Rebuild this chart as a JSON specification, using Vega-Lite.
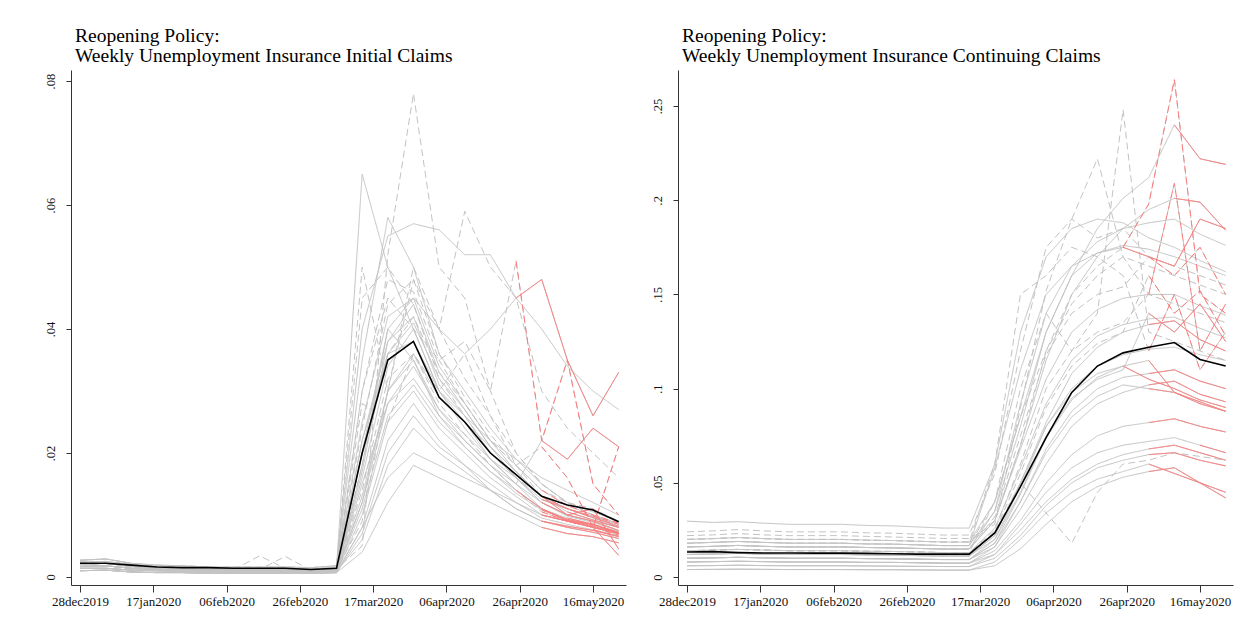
{"$schema":"https://vega.github.io/schema/vega-lite/v6.json","padding":{"left":43,"top":25,"right":5,"bottom":5},"background":"white","spacing":25,
"config":{"view":{"stroke":null},"font":"Liberation Serif","axis":{"grid":false,"title":null,"domainColor":"#333","tickColor":"#333","labelColor":"#111","labelFont":"Liberation Serif"},"title":{"font":"Liberation Serif","fontSize":19.5,"fontWeight":"normal","color":"#000","anchor":"start","frame":"group","offset":0,"dx":4,"lineHeight":20}},
"datasets":{"avg":[
{"d":"2019-12-28","i":0.0022,"c":0.0133},{"d":"2020-01-04","i":0.0022,"c":0.0135},{"d":"2020-01-11","i":0.0019,"c":0.013},{"d":"2020-01-18","i":0.0016,"c":0.0128},{"d":"2020-01-25","i":0.0015,"c":0.0128},{"d":"2020-02-01","i":0.0015,"c":0.0127},{"d":"2020-02-08","i":0.0014,"c":0.0127},{"d":"2020-02-15","i":0.0014,"c":0.0126},{"d":"2020-02-22","i":0.0014,"c":0.0124},{"d":"2020-02-29","i":0.0012,"c":0.0122},{"d":"2020-03-07","i":0.0014,"c":0.0122},{"d":"2020-03-14","i":0.02,"c":0.0122},{"d":"2020-03-21","i":0.035,"c":0.0234},{"d":"2020-03-28","i":0.038,"c":0.048},{"d":"2020-04-04","i":0.029,"c":0.074},{"d":"2020-04-11","i":0.025,"c":0.098},{"d":"2020-04-18","i":0.02,"c":0.112},{"d":"2020-04-25","i":0.0165,"c":0.119},{"d":"2020-05-02","i":0.013,"c":0.122},{"d":"2020-05-09","i":0.0116,"c":0.1245},{"d":"2020-05-16","i":0.0108,"c":0.1155},{"d":"2020-05-23","i":0.0089,"c":0.112}],
"st":[
{"s":1,"g":"a","d":"2019-12-28","i":0.0017,"c":0.012,"p":0},{"s":1,"g":"a","d":"2020-01-04","i":0.0018,"c":0.0122,"p":0},{"s":1,"g":"a","d":"2020-01-11","i":0.0014,"c":0.0126,"p":0},{"s":1,"g":"a","d":"2020-01-18","i":0.0012,"c":0.0122,"p":0},{"s":1,"g":"a","d":"2020-01-25","i":0.0011,"c":0.012,"p":0},{"s":1,"g":"a","d":"2020-02-01","i":0.001,"c":0.012,"p":0},{"s":1,"g":"a","d":"2020-02-08","i":0.001,"c":0.012,"p":0},{"s":1,"g":"a","d":"2020-02-15","i":0.001,"c":0.0118,"p":0},{"s":1,"g":"a","d":"2020-02-22","i":0.001,"c":0.0116,"p":0},{"s":1,"g":"a","d":"2020-02-29","i":0.001,"c":0.0114,"p":0},{"s":1,"g":"a","d":"2020-03-07","i":0.0011,"c":0.0112,"p":0},{"s":1,"g":"a","d":"2020-03-14","i":0.022,"c":0.0112,"p":0},{"s":1,"g":"a","d":"2020-03-21","i":0.038,"c":0.022,"p":0},{"s":1,"g":"a","d":"2020-03-28","i":0.042,"c":0.05,"p":0},{"s":1,"g":"a","d":"2020-04-04","i":0.031,"c":0.082,"p":0},{"s":1,"g":"a","d":"2020-04-11","i":0.026,"c":0.108,"p":0},{"s":1,"g":"a","d":"2020-04-18","i":0.02,"c":0.122,"p":0},{"s":1,"g":"a","d":"2020-04-25","i":0.016,"c":0.13,"p":0},{"s":1,"g":"a","d":"2020-05-02","i":0.012,"c":0.134,"p":1},{"s":1,"g":"a","d":"2020-05-09","i":0.01,"c":0.136,"p":1},{"s":1,"g":"a","d":"2020-05-16","i":0.009,"c":0.126,"p":1},{"s":1,"g":"a","d":"2020-05-23","i":0.0075,"c":0.12,"p":1},
{"s":2,"g":"a","d":"2019-12-28","i":0.0014,"c":0.01,"p":0},{"s":2,"g":"a","d":"2020-01-04","i":0.0014,"c":0.0102,"p":0},{"s":2,"g":"a","d":"2020-01-11","i":0.0011,"c":0.0105,"p":0},{"s":2,"g":"a","d":"2020-01-18","i":0.001,"c":0.0102,"p":0},{"s":2,"g":"a","d":"2020-01-25","i":0.0009,"c":0.01,"p":0},{"s":2,"g":"a","d":"2020-02-01","i":0.0008,"c":0.01,"p":0},{"s":2,"g":"a","d":"2020-02-08","i":0.0008,"c":0.01,"p":0},{"s":2,"g":"a","d":"2020-02-15","i":0.0008,"c":0.0098,"p":0},{"s":2,"g":"a","d":"2020-02-22","i":0.0008,"c":0.0097,"p":0},{"s":2,"g":"a","d":"2020-02-29","i":0.0008,"c":0.0095,"p":0},{"s":2,"g":"a","d":"2020-03-07","i":0.0009,"c":0.0093,"p":0},{"s":2,"g":"a","d":"2020-03-14","i":0.012,"c":0.0093,"p":0},{"s":2,"g":"a","d":"2020-03-21","i":0.03,"c":0.016,"p":0},{"s":2,"g":"a","d":"2020-03-28","i":0.035,"c":0.036,"p":0},{"s":2,"g":"a","d":"2020-04-04","i":0.027,"c":0.06,"p":0},{"s":2,"g":"a","d":"2020-04-11","i":0.022,"c":0.08,"p":0},{"s":2,"g":"a","d":"2020-04-18","i":0.018,"c":0.092,"p":0},{"s":2,"g":"a","d":"2020-04-25","i":0.014,"c":0.098,"p":0},{"s":2,"g":"a","d":"2020-05-02","i":0.011,"c":0.102,"p":1},{"s":2,"g":"a","d":"2020-05-09","i":0.009,"c":0.104,"p":1},{"s":2,"g":"a","d":"2020-05-16","i":0.0085,"c":0.097,"p":1},{"s":2,"g":"a","d":"2020-05-23","i":0.007,"c":0.093,"p":1},
{"s":3,"g":"a","d":"2019-12-28","i":0.0024,"c":0.018,"p":0},{"s":3,"g":"a","d":"2020-01-04","i":0.0025,"c":0.0184,"p":0},{"s":3,"g":"a","d":"2020-01-11","i":0.002,"c":0.0189,"p":0},{"s":3,"g":"a","d":"2020-01-18","i":0.0017,"c":0.0184,"p":0},{"s":3,"g":"a","d":"2020-01-25","i":0.0015,"c":0.018,"p":0},{"s":3,"g":"a","d":"2020-02-01","i":0.0014,"c":0.018,"p":0},{"s":3,"g":"a","d":"2020-02-08","i":0.0014,"c":0.018,"p":0},{"s":3,"g":"a","d":"2020-02-15","i":0.0014,"c":0.0176,"p":0},{"s":3,"g":"a","d":"2020-02-22","i":0.0014,"c":0.0175,"p":0},{"s":3,"g":"a","d":"2020-02-29","i":0.0013,"c":0.0171,"p":0},{"s":3,"g":"a","d":"2020-03-07","i":0.0015,"c":0.0167,"p":0},{"s":3,"g":"a","d":"2020-03-14","i":0.065,"c":0.0167,"p":0},{"s":3,"g":"a","d":"2020-03-21","i":0.05,"c":0.058,"p":0},{"s":3,"g":"a","d":"2020-03-28","i":0.04,"c":0.11,"p":0},{"s":3,"g":"a","d":"2020-04-04","i":0.03,"c":0.15,"p":0},{"s":3,"g":"a","d":"2020-04-11","i":0.025,"c":0.165,"p":0},{"s":3,"g":"a","d":"2020-04-18","i":0.019,"c":0.172,"p":0},{"s":3,"g":"a","d":"2020-04-25","i":0.015,"c":0.176,"p":0},{"s":3,"g":"a","d":"2020-05-02","i":0.012,"c":0.174,"p":0},{"s":3,"g":"a","d":"2020-05-09","i":0.01,"c":0.17,"p":0},{"s":3,"g":"a","d":"2020-05-16","i":0.009,"c":0.165,"p":0},{"s":3,"g":"a","d":"2020-05-23","i":0.008,"c":0.16,"p":0},
{"s":4,"g":"b","d":"2019-12-28","i":0.002,"c":0.022,"p":0},{"s":4,"g":"b","d":"2020-01-04","i":0.0022,"c":0.0224,"p":0},{"s":4,"g":"b","d":"2020-01-11","i":0.0017,"c":0.0231,"p":0},{"s":4,"g":"b","d":"2020-01-18","i":0.0014,"c":0.0224,"p":0},{"s":4,"g":"b","d":"2020-01-25","i":0.0013,"c":0.022,"p":0},{"s":4,"g":"b","d":"2020-02-01","i":0.0012,"c":0.022,"p":0},{"s":4,"g":"b","d":"2020-02-08","i":0.0012,"c":0.022,"p":0},{"s":4,"g":"b","d":"2020-02-15","i":0.0012,"c":0.0216,"p":0},{"s":4,"g":"b","d":"2020-02-22","i":0.0012,"c":0.0213,"p":0},{"s":4,"g":"b","d":"2020-02-29","i":0.0011,"c":0.0209,"p":0},{"s":4,"g":"b","d":"2020-03-07","i":0.0013,"c":0.0205,"p":0},{"s":4,"g":"b","d":"2020-03-14","i":0.005,"c":0.0205,"p":0},{"s":4,"g":"b","d":"2020-03-21","i":0.052,"c":0.028,"p":0},{"s":4,"g":"b","d":"2020-03-28","i":0.078,"c":0.09,"p":0},{"s":4,"g":"b","d":"2020-04-04","i":0.05,"c":0.152,"p":0},{"s":4,"g":"b","d":"2020-04-11","i":0.045,"c":0.19,"p":0},{"s":4,"g":"b","d":"2020-04-18","i":0.03,"c":0.222,"p":0},{"s":4,"g":"b","d":"2020-04-25","i":0.02,"c":0.17,"p":0},{"s":4,"g":"b","d":"2020-05-02","i":0.015,"c":0.15,"p":0},{"s":4,"g":"b","d":"2020-05-09","i":0.012,"c":0.145,"p":0},{"s":4,"g":"b","d":"2020-05-16","i":0.011,"c":0.14,"p":0},{"s":4,"g":"b","d":"2020-05-23","i":0.009,"c":0.135,"p":0},
{"s":5,"g":"a","d":"2019-12-28","i":0.0027,"c":0.016,"p":0},{"s":5,"g":"a","d":"2020-01-04","i":0.0029,"c":0.0163,"p":0},{"s":5,"g":"a","d":"2020-01-11","i":0.0022,"c":0.0168,"p":0},{"s":5,"g":"a","d":"2020-01-18","i":0.0019,"c":0.0163,"p":0},{"s":5,"g":"a","d":"2020-01-25","i":0.0018,"c":0.016,"p":0},{"s":5,"g":"a","d":"2020-02-01","i":0.0016,"c":0.016,"p":0},{"s":5,"g":"a","d":"2020-02-08","i":0.0016,"c":0.016,"p":0},{"s":5,"g":"a","d":"2020-02-15","i":0.0016,"c":0.0157,"p":0},{"s":5,"g":"a","d":"2020-02-22","i":0.0016,"c":0.0155,"p":0},{"s":5,"g":"a","d":"2020-02-29","i":0.0015,"c":0.0152,"p":0},{"s":5,"g":"a","d":"2020-03-07","i":0.0018,"c":0.0149,"p":0},{"s":5,"g":"a","d":"2020-03-14","i":0.04,"c":0.0149,"p":0},{"s":5,"g":"a","d":"2020-03-21","i":0.055,"c":0.035,"p":0},{"s":5,"g":"a","d":"2020-03-28","i":0.057,"c":0.092,"p":0},{"s":5,"g":"a","d":"2020-04-04","i":0.056,"c":0.14,"p":0},{"s":5,"g":"a","d":"2020-04-11","i":0.052,"c":0.165,"p":0},{"s":5,"g":"a","d":"2020-04-18","i":0.052,"c":0.178,"p":0},{"s":5,"g":"a","d":"2020-04-25","i":0.045,"c":0.185,"p":0},{"s":5,"g":"a","d":"2020-05-02","i":0.04,"c":0.188,"p":0},{"s":5,"g":"a","d":"2020-05-09","i":0.034,"c":0.19,"p":0},{"s":5,"g":"a","d":"2020-05-16","i":0.03,"c":0.182,"p":0},{"s":5,"g":"a","d":"2020-05-23","i":0.027,"c":0.176,"p":0},
{"s":6,"g":"b","d":"2019-12-28","i":0.002,"c":0.014,"p":0},{"s":6,"g":"b","d":"2020-01-04","i":0.0022,"c":0.0143,"p":0},{"s":6,"g":"b","d":"2020-01-11","i":0.0017,"c":0.0147,"p":0},{"s":6,"g":"b","d":"2020-01-18","i":0.0014,"c":0.0143,"p":0},{"s":6,"g":"b","d":"2020-01-25","i":0.0013,"c":0.014,"p":0},{"s":6,"g":"b","d":"2020-02-01","i":0.0012,"c":0.014,"p":0},{"s":6,"g":"b","d":"2020-02-08","i":0.0012,"c":0.014,"p":0},{"s":6,"g":"b","d":"2020-02-15","i":0.0034,"c":0.0137,"p":0},{"s":6,"g":"b","d":"2020-02-22","i":0.0014,"c":0.0136,"p":0},{"s":6,"g":"b","d":"2020-02-29","i":0.0011,"c":0.0133,"p":0},{"s":6,"g":"b","d":"2020-03-07","i":0.0013,"c":0.013,"p":0},{"s":6,"g":"b","d":"2020-03-14","i":0.05,"c":0.013,"p":0},{"s":6,"g":"b","d":"2020-03-21","i":0.03,"c":0.04,"p":0},{"s":6,"g":"b","d":"2020-03-28","i":0.048,"c":0.085,"p":0},{"s":6,"g":"b","d":"2020-04-04","i":0.04,"c":0.12,"p":0},{"s":6,"g":"b","d":"2020-04-11","i":0.059,"c":0.145,"p":0},{"s":6,"g":"b","d":"2020-04-18","i":0.05,"c":0.16,"p":0},{"s":6,"g":"b","d":"2020-04-25","i":0.045,"c":0.17,"p":0},{"s":6,"g":"b","d":"2020-05-02","i":0.03,"c":0.165,"p":0},{"s":6,"g":"b","d":"2020-05-09","i":0.024,"c":0.16,"p":0},{"s":6,"g":"b","d":"2020-05-16","i":0.02,"c":0.155,"p":0},{"s":6,"g":"b","d":"2020-05-23","i":0.016,"c":0.15,"p":0},
{"s":7,"g":"b","d":"2019-12-28","i":0.0017,"c":0.02,"p":0},{"s":7,"g":"b","d":"2020-01-04","i":0.0018,"c":0.0204,"p":0},{"s":7,"g":"b","d":"2020-01-11","i":0.0014,"c":0.021,"p":0},{"s":7,"g":"b","d":"2020-01-18","i":0.0012,"c":0.0204,"p":0},{"s":7,"g":"b","d":"2020-01-25","i":0.0011,"c":0.02,"p":0},{"s":7,"g":"b","d":"2020-02-01","i":0.001,"c":0.02,"p":0},{"s":7,"g":"b","d":"2020-02-08","i":0.001,"c":0.02,"p":0},{"s":7,"g":"b","d":"2020-02-15","i":0.001,"c":0.0196,"p":0},{"s":7,"g":"b","d":"2020-02-22","i":0.001,"c":0.0194,"p":0},{"s":7,"g":"b","d":"2020-02-29","i":0.001,"c":0.019,"p":0},{"s":7,"g":"b","d":"2020-03-07","i":0.0011,"c":0.0186,"p":0},{"s":7,"g":"b","d":"2020-03-14","i":0.03,"c":0.0186,"p":0},{"s":7,"g":"b","d":"2020-03-21","i":0.045,"c":0.03,"p":0},{"s":7,"g":"b","d":"2020-03-28","i":0.04,"c":0.07,"p":0},{"s":7,"g":"b","d":"2020-04-04","i":0.035,"c":0.12,"p":0},{"s":7,"g":"b","d":"2020-04-11","i":0.038,"c":0.15,"p":0},{"s":7,"g":"b","d":"2020-04-18","i":0.03,"c":0.165,"p":0},{"s":7,"g":"b","d":"2020-04-25","i":0.051,"c":0.175,"p":1},{"s":7,"g":"b","d":"2020-05-02","i":0.022,"c":0.198,"p":1},{"s":7,"g":"b","d":"2020-05-09","i":0.035,"c":0.264,"p":1},{"s":7,"g":"b","d":"2020-05-16","i":0.015,"c":0.15,"p":1},{"s":7,"g":"b","d":"2020-05-23","i":0.01,"c":0.14,"p":1},
{"s":8,"g":"a","d":"2019-12-28","i":0.002,"c":0.018,"p":0},{"s":8,"g":"a","d":"2020-01-04","i":0.0022,"c":0.0184,"p":0},{"s":8,"g":"a","d":"2020-01-11","i":0.0017,"c":0.0189,"p":0},{"s":8,"g":"a","d":"2020-01-18","i":0.0014,"c":0.0184,"p":0},{"s":8,"g":"a","d":"2020-01-25","i":0.0013,"c":0.018,"p":0},{"s":8,"g":"a","d":"2020-02-01","i":0.0012,"c":0.018,"p":0},{"s":8,"g":"a","d":"2020-02-08","i":0.0012,"c":0.018,"p":0},{"s":8,"g":"a","d":"2020-02-15","i":0.0012,"c":0.0176,"p":0},{"s":8,"g":"a","d":"2020-02-22","i":0.0012,"c":0.0175,"p":0},{"s":8,"g":"a","d":"2020-02-29","i":0.0011,"c":0.0171,"p":0},{"s":8,"g":"a","d":"2020-03-07","i":0.0013,"c":0.0167,"p":0},{"s":8,"g":"a","d":"2020-03-14","i":0.02,"c":0.0167,"p":0},{"s":8,"g":"a","d":"2020-03-21","i":0.04,"c":0.035,"p":0},{"s":8,"g":"a","d":"2020-03-28","i":0.045,"c":0.08,"p":0},{"s":8,"g":"a","d":"2020-04-04","i":0.04,"c":0.13,"p":0},{"s":8,"g":"a","d":"2020-04-11","i":0.036,"c":0.16,"p":0},{"s":8,"g":"a","d":"2020-04-18","i":0.04,"c":0.172,"p":0},{"s":8,"g":"a","d":"2020-04-25","i":0.045,"c":0.175,"p":1},{"s":8,"g":"a","d":"2020-05-02","i":0.048,"c":0.17,"p":1},{"s":8,"g":"a","d":"2020-05-09","i":0.035,"c":0.165,"p":1},{"s":8,"g":"a","d":"2020-05-16","i":0.026,"c":0.19,"p":1},{"s":8,"g":"a","d":"2020-05-23","i":0.033,"c":0.185,"p":1},
{"s":9,"g":"a","d":"2019-12-28","i":0.0017,"c":0.012,"p":0},{"s":9,"g":"a","d":"2020-01-04","i":0.0018,"c":0.0122,"p":0},{"s":9,"g":"a","d":"2020-01-11","i":0.0014,"c":0.0126,"p":0},{"s":9,"g":"a","d":"2020-01-18","i":0.0012,"c":0.0122,"p":0},{"s":9,"g":"a","d":"2020-01-25","i":0.0011,"c":0.012,"p":0},{"s":9,"g":"a","d":"2020-02-01","i":0.001,"c":0.012,"p":0},{"s":9,"g":"a","d":"2020-02-08","i":0.001,"c":0.012,"p":0},{"s":9,"g":"a","d":"2020-02-15","i":0.001,"c":0.0118,"p":0},{"s":9,"g":"a","d":"2020-02-22","i":0.001,"c":0.0116,"p":0},{"s":9,"g":"a","d":"2020-02-29","i":0.001,"c":0.0114,"p":0},{"s":9,"g":"a","d":"2020-03-07","i":0.0011,"c":0.0112,"p":0},{"s":9,"g":"a","d":"2020-03-14","i":0.015,"c":0.0112,"p":0},{"s":9,"g":"a","d":"2020-03-21","i":0.028,"c":0.02,"p":0},{"s":9,"g":"a","d":"2020-03-28","i":0.032,"c":0.045,"p":0},{"s":9,"g":"a","d":"2020-04-04","i":0.026,"c":0.075,"p":0},{"s":9,"g":"a","d":"2020-04-11","i":0.022,"c":0.095,"p":0},{"s":9,"g":"a","d":"2020-04-18","i":0.018,"c":0.105,"p":0},{"s":9,"g":"a","d":"2020-04-25","i":0.015,"c":0.11,"p":0},{"s":9,"g":"a","d":"2020-05-02","i":0.022,"c":0.14,"p":1},{"s":9,"g":"a","d":"2020-05-09","i":0.019,"c":0.13,"p":1},{"s":9,"g":"a","d":"2020-05-16","i":0.024,"c":0.145,"p":1},{"s":9,"g":"a","d":"2020-05-23","i":0.021,"c":0.125,"p":1},
{"s":10,"g":"b","d":"2019-12-28","i":0.002,"c":0.014,"p":0},{"s":10,"g":"b","d":"2020-01-04","i":0.0022,"c":0.0143,"p":0},{"s":10,"g":"b","d":"2020-01-11","i":0.0017,"c":0.0147,"p":0},{"s":10,"g":"b","d":"2020-01-18","i":0.0014,"c":0.0143,"p":0},{"s":10,"g":"b","d":"2020-01-25","i":0.0013,"c":0.014,"p":0},{"s":10,"g":"b","d":"2020-02-01","i":0.0012,"c":0.014,"p":0},{"s":10,"g":"b","d":"2020-02-08","i":0.0012,"c":0.014,"p":0},{"s":10,"g":"b","d":"2020-02-15","i":0.0012,"c":0.0137,"p":0},{"s":10,"g":"b","d":"2020-02-22","i":0.0012,"c":0.0136,"p":0},{"s":10,"g":"b","d":"2020-02-29","i":0.0011,"c":0.0133,"p":0},{"s":10,"g":"b","d":"2020-03-07","i":0.0013,"c":0.013,"p":0},{"s":10,"g":"b","d":"2020-03-14","i":0.018,"c":0.013,"p":0},{"s":10,"g":"b","d":"2020-03-21","i":0.036,"c":0.025,"p":0},{"s":10,"g":"b","d":"2020-03-28","i":0.042,"c":0.06,"p":0},{"s":10,"g":"b","d":"2020-04-04","i":0.033,"c":0.1,"p":0},{"s":10,"g":"b","d":"2020-04-11","i":0.028,"c":0.12,"p":0},{"s":10,"g":"b","d":"2020-04-18","i":0.022,"c":0.13,"p":0},{"s":10,"g":"b","d":"2020-04-25","i":0.018,"c":0.135,"p":0},{"s":10,"g":"b","d":"2020-05-02","i":0.021,"c":0.15,"p":1},{"s":10,"g":"b","d":"2020-05-09","i":0.016,"c":0.209,"p":1},{"s":10,"g":"b","d":"2020-05-16","i":0.008,"c":0.12,"p":1},{"s":10,"g":"b","d":"2020-05-23","i":0.021,"c":0.145,"p":1},
{"s":11,"g":"a","d":"2019-12-28","i":0.001,"c":0.008,"p":0},{"s":11,"g":"a","d":"2020-01-04","i":0.0011,"c":0.0082,"p":0},{"s":11,"g":"a","d":"2020-01-11","i":0.0008,"c":0.0084,"p":0},{"s":11,"g":"a","d":"2020-01-18","i":0.0007,"c":0.0082,"p":0},{"s":11,"g":"a","d":"2020-01-25","i":0.0007,"c":0.008,"p":0},{"s":11,"g":"a","d":"2020-02-01","i":0.0006,"c":0.008,"p":0},{"s":11,"g":"a","d":"2020-02-08","i":0.0006,"c":0.008,"p":0},{"s":11,"g":"a","d":"2020-02-15","i":0.0006,"c":0.0078,"p":0},{"s":11,"g":"a","d":"2020-02-22","i":0.0006,"c":0.0078,"p":0},{"s":11,"g":"a","d":"2020-02-29","i":0.0006,"c":0.0076,"p":0},{"s":11,"g":"a","d":"2020-03-07","i":0.0007,"c":0.0074,"p":0},{"s":11,"g":"a","d":"2020-03-14","i":0.01,"c":0.0074,"p":0},{"s":11,"g":"a","d":"2020-03-21","i":0.025,"c":0.014,"p":0},{"s":11,"g":"a","d":"2020-03-28","i":0.03,"c":0.03,"p":0},{"s":11,"g":"a","d":"2020-04-04","i":0.024,"c":0.05,"p":0},{"s":11,"g":"a","d":"2020-04-11","i":0.02,"c":0.065,"p":0},{"s":11,"g":"a","d":"2020-04-18","i":0.016,"c":0.075,"p":0},{"s":11,"g":"a","d":"2020-04-25","i":0.013,"c":0.08,"p":0},{"s":11,"g":"a","d":"2020-05-02","i":0.01,"c":0.082,"p":1},{"s":11,"g":"a","d":"2020-05-09","i":0.009,"c":0.084,"p":1},{"s":11,"g":"a","d":"2020-05-16","i":0.008,"c":0.08,"p":1},{"s":11,"g":"a","d":"2020-05-23","i":0.007,"c":0.077,"p":1},
{"s":12,"g":"a","d":"2019-12-28","i":0.001,"c":0.006,"p":0},{"s":12,"g":"a","d":"2020-01-04","i":0.0011,"c":0.0061,"p":0},{"s":12,"g":"a","d":"2020-01-11","i":0.0008,"c":0.0063,"p":0},{"s":12,"g":"a","d":"2020-01-18","i":0.0007,"c":0.0061,"p":0},{"s":12,"g":"a","d":"2020-01-25","i":0.0007,"c":0.006,"p":0},{"s":12,"g":"a","d":"2020-02-01","i":0.0006,"c":0.006,"p":0},{"s":12,"g":"a","d":"2020-02-08","i":0.0006,"c":0.006,"p":0},{"s":12,"g":"a","d":"2020-02-15","i":0.0006,"c":0.0059,"p":0},{"s":12,"g":"a","d":"2020-02-22","i":0.0006,"c":0.0058,"p":0},{"s":12,"g":"a","d":"2020-02-29","i":0.0006,"c":0.0057,"p":0},{"s":12,"g":"a","d":"2020-03-07","i":0.0007,"c":0.0056,"p":0},{"s":12,"g":"a","d":"2020-03-14","i":0.008,"c":0.0056,"p":0},{"s":12,"g":"a","d":"2020-03-21","i":0.022,"c":0.01,"p":0},{"s":12,"g":"a","d":"2020-03-28","i":0.028,"c":0.022,"p":0},{"s":12,"g":"a","d":"2020-04-04","i":0.022,"c":0.038,"p":0},{"s":12,"g":"a","d":"2020-04-11","i":0.018,"c":0.05,"p":0},{"s":12,"g":"a","d":"2020-04-18","i":0.014,"c":0.058,"p":0},{"s":12,"g":"a","d":"2020-04-25","i":0.011,"c":0.062,"p":0},{"s":12,"g":"a","d":"2020-05-02","i":0.009,"c":0.065,"p":1},{"s":12,"g":"a","d":"2020-05-09","i":0.008,"c":0.066,"p":1},{"s":12,"g":"a","d":"2020-05-16","i":0.0072,"c":0.062,"p":1},{"s":12,"g":"a","d":"2020-05-23","i":0.0062,"c":0.059,"p":1},
{"s":13,"g":"b","d":"2019-12-28","i":0.0017,"c":0.012,"p":0},{"s":13,"g":"b","d":"2020-01-04","i":0.0018,"c":0.0122,"p":0},{"s":13,"g":"b","d":"2020-01-11","i":0.0014,"c":0.0126,"p":0},{"s":13,"g":"b","d":"2020-01-18","i":0.0012,"c":0.0122,"p":0},{"s":13,"g":"b","d":"2020-01-25","i":0.0011,"c":0.012,"p":0},{"s":13,"g":"b","d":"2020-02-01","i":0.001,"c":0.012,"p":0},{"s":13,"g":"b","d":"2020-02-08","i":0.001,"c":0.012,"p":0},{"s":13,"g":"b","d":"2020-02-15","i":0.001,"c":0.0118,"p":0},{"s":13,"g":"b","d":"2020-02-22","i":0.001,"c":0.0116,"p":0},{"s":13,"g":"b","d":"2020-02-29","i":0.001,"c":0.0114,"p":0},{"s":13,"g":"b","d":"2020-03-07","i":0.0011,"c":0.0112,"p":0},{"s":13,"g":"b","d":"2020-03-14","i":0.014,"c":0.0112,"p":0},{"s":13,"g":"b","d":"2020-03-21","i":0.032,"c":0.024,"p":0},{"s":13,"g":"b","d":"2020-03-28","i":0.036,"c":0.055,"p":0},{"s":13,"g":"b","d":"2020-04-04","i":0.028,"c":0.09,"p":0},{"s":13,"g":"b","d":"2020-04-11","i":0.023,"c":0.112,"p":0},{"s":13,"g":"b","d":"2020-04-18","i":0.018,"c":0.124,"p":0},{"s":13,"g":"b","d":"2020-04-25","i":0.014,"c":0.13,"p":0},{"s":13,"g":"b","d":"2020-05-02","i":0.0105,"c":0.16,"p":1},{"s":13,"g":"b","d":"2020-05-09","i":0.009,"c":0.14,"p":1},{"s":13,"g":"b","d":"2020-05-16","i":0.008,"c":0.152,"p":1},{"s":13,"g":"b","d":"2020-05-23","i":0.0068,"c":0.128,"p":1},
{"s":14,"g":"a","d":"2019-12-28","i":0.0024,"c":0.016,"p":0},{"s":14,"g":"a","d":"2020-01-04","i":0.0025,"c":0.0163,"p":0},{"s":14,"g":"a","d":"2020-01-11","i":0.002,"c":0.0168,"p":0},{"s":14,"g":"a","d":"2020-01-18","i":0.0017,"c":0.0163,"p":0},{"s":14,"g":"a","d":"2020-01-25","i":0.0015,"c":0.016,"p":0},{"s":14,"g":"a","d":"2020-02-01","i":0.0014,"c":0.016,"p":0},{"s":14,"g":"a","d":"2020-02-08","i":0.0014,"c":0.016,"p":0},{"s":14,"g":"a","d":"2020-02-15","i":0.0014,"c":0.0157,"p":0},{"s":14,"g":"a","d":"2020-02-22","i":0.0014,"c":0.0155,"p":0},{"s":14,"g":"a","d":"2020-02-29","i":0.0013,"c":0.0152,"p":0},{"s":14,"g":"a","d":"2020-03-07","i":0.0015,"c":0.0149,"p":0},{"s":14,"g":"a","d":"2020-03-14","i":0.025,"c":0.0149,"p":0},{"s":14,"g":"a","d":"2020-03-21","i":0.042,"c":0.03,"p":0},{"s":14,"g":"a","d":"2020-03-28","i":0.045,"c":0.068,"p":0},{"s":14,"g":"a","d":"2020-04-04","i":0.034,"c":0.105,"p":0},{"s":14,"g":"a","d":"2020-04-11","i":0.028,"c":0.13,"p":0},{"s":14,"g":"a","d":"2020-04-18","i":0.022,"c":0.142,"p":0},{"s":14,"g":"a","d":"2020-04-25","i":0.017,"c":0.148,"p":0},{"s":14,"g":"a","d":"2020-05-02","i":0.013,"c":0.15,"p":0},{"s":14,"g":"a","d":"2020-05-09","i":0.011,"c":0.15,"p":0},{"s":14,"g":"a","d":"2020-05-16","i":0.0095,"c":0.144,"p":0},{"s":14,"g":"a","d":"2020-05-23","i":0.008,"c":0.139,"p":0},
{"s":15,"g":"a","d":"2019-12-28","i":0.0014,"c":0.008,"p":0},{"s":15,"g":"a","d":"2020-01-04","i":0.0014,"c":0.0082,"p":0},{"s":15,"g":"a","d":"2020-01-11","i":0.0011,"c":0.0084,"p":0},{"s":15,"g":"a","d":"2020-01-18","i":0.001,"c":0.0082,"p":0},{"s":15,"g":"a","d":"2020-01-25","i":0.0009,"c":0.008,"p":0},{"s":15,"g":"a","d":"2020-02-01","i":0.0008,"c":0.008,"p":0},{"s":15,"g":"a","d":"2020-02-08","i":0.0008,"c":0.008,"p":0},{"s":15,"g":"a","d":"2020-02-15","i":0.0008,"c":0.0078,"p":0},{"s":15,"g":"a","d":"2020-02-22","i":0.0008,"c":0.0078,"p":0},{"s":15,"g":"a","d":"2020-02-29","i":0.0008,"c":0.0076,"p":0},{"s":15,"g":"a","d":"2020-03-07","i":0.0009,"c":0.0074,"p":0},{"s":15,"g":"a","d":"2020-03-14","i":0.006,"c":0.0074,"p":0},{"s":15,"g":"a","d":"2020-03-21","i":0.018,"c":0.012,"p":0},{"s":15,"g":"a","d":"2020-03-28","i":0.024,"c":0.025,"p":0},{"s":15,"g":"a","d":"2020-04-04","i":0.02,"c":0.04,"p":0},{"s":15,"g":"a","d":"2020-04-11","i":0.017,"c":0.052,"p":0},{"s":15,"g":"a","d":"2020-04-18","i":0.014,"c":0.06,"p":0},{"s":15,"g":"a","d":"2020-04-25","i":0.011,"c":0.065,"p":0},{"s":15,"g":"a","d":"2020-05-02","i":0.009,"c":0.068,"p":1},{"s":15,"g":"a","d":"2020-05-09","i":0.0082,"c":0.07,"p":1},{"s":15,"g":"a","d":"2020-05-16","i":0.0075,"c":0.066,"p":1},{"s":15,"g":"a","d":"2020-05-23","i":0.0065,"c":0.062,"p":1},
{"s":16,"g":"b","d":"2019-12-28","i":0.0027,"c":0.024,"p":0},{"s":16,"g":"b","d":"2020-01-04","i":0.0029,"c":0.0245,"p":0},{"s":16,"g":"b","d":"2020-01-11","i":0.0022,"c":0.0252,"p":0},{"s":16,"g":"b","d":"2020-01-18","i":0.0019,"c":0.0245,"p":0},{"s":16,"g":"b","d":"2020-01-25","i":0.0018,"c":0.024,"p":0},{"s":16,"g":"b","d":"2020-02-01","i":0.0016,"c":0.024,"p":0},{"s":16,"g":"b","d":"2020-02-08","i":0.0016,"c":0.024,"p":0},{"s":16,"g":"b","d":"2020-02-15","i":0.0016,"c":0.0235,"p":0},{"s":16,"g":"b","d":"2020-02-22","i":0.0016,"c":0.0233,"p":0},{"s":16,"g":"b","d":"2020-02-29","i":0.0015,"c":0.0228,"p":0},{"s":16,"g":"b","d":"2020-03-07","i":0.0018,"c":0.0223,"p":0},{"s":16,"g":"b","d":"2020-03-14","i":0.03,"c":0.0223,"p":0},{"s":16,"g":"b","d":"2020-03-21","i":0.048,"c":0.055,"p":0},{"s":16,"g":"b","d":"2020-03-28","i":0.046,"c":0.12,"p":0},{"s":16,"g":"b","d":"2020-04-04","i":0.035,"c":0.175,"p":0},{"s":16,"g":"b","d":"2020-04-11","i":0.028,"c":0.19,"p":0},{"s":16,"g":"b","d":"2020-04-18","i":0.022,"c":0.18,"p":0},{"s":16,"g":"b","d":"2020-04-25","i":0.018,"c":0.185,"p":0},{"s":16,"g":"b","d":"2020-05-02","i":0.014,"c":0.17,"p":0},{"s":16,"g":"b","d":"2020-05-09","i":0.012,"c":0.165,"p":0},{"s":16,"g":"b","d":"2020-05-16","i":0.01,"c":0.16,"p":0},{"s":16,"g":"b","d":"2020-05-23","i":0.0085,"c":0.155,"p":0},
{"s":17,"g":"a","d":"2019-12-28","i":0.0017,"c":0.016,"p":0},{"s":17,"g":"a","d":"2020-01-04","i":0.0018,"c":0.0163,"p":0},{"s":17,"g":"a","d":"2020-01-11","i":0.0014,"c":0.0168,"p":0},{"s":17,"g":"a","d":"2020-01-18","i":0.0012,"c":0.0163,"p":0},{"s":17,"g":"a","d":"2020-01-25","i":0.0011,"c":0.016,"p":0},{"s":17,"g":"a","d":"2020-02-01","i":0.001,"c":0.016,"p":0},{"s":17,"g":"a","d":"2020-02-08","i":0.001,"c":0.016,"p":0},{"s":17,"g":"a","d":"2020-02-15","i":0.001,"c":0.0157,"p":0},{"s":17,"g":"a","d":"2020-02-22","i":0.001,"c":0.0155,"p":0},{"s":17,"g":"a","d":"2020-02-29","i":0.001,"c":0.0152,"p":0},{"s":17,"g":"a","d":"2020-03-07","i":0.0011,"c":0.0149,"p":0},{"s":17,"g":"a","d":"2020-03-14","i":0.016,"c":0.0149,"p":0},{"s":17,"g":"a","d":"2020-03-21","i":0.034,"c":0.03,"p":0},{"s":17,"g":"a","d":"2020-03-28","i":0.04,"c":0.07,"p":0},{"s":17,"g":"a","d":"2020-04-04","i":0.03,"c":0.115,"p":0},{"s":17,"g":"a","d":"2020-04-11","i":0.024,"c":0.15,"p":0},{"s":17,"g":"a","d":"2020-04-18","i":0.019,"c":0.17,"p":0},{"s":17,"g":"a","d":"2020-04-25","i":0.015,"c":0.185,"p":0},{"s":17,"g":"a","d":"2020-05-02","i":0.011,"c":0.195,"p":0},{"s":17,"g":"a","d":"2020-05-09","i":0.0095,"c":0.201,"p":1},{"s":17,"g":"a","d":"2020-05-16","i":0.0085,"c":0.199,"p":1},{"s":17,"g":"a","d":"2020-05-23","i":0.0072,"c":0.184,"p":1},
{"s":18,"g":"a","d":"2019-12-28","i":0.001,"c":0.004,"p":0},{"s":18,"g":"a","d":"2020-01-04","i":0.0011,"c":0.0041,"p":0},{"s":18,"g":"a","d":"2020-01-11","i":0.0008,"c":0.0042,"p":0},{"s":18,"g":"a","d":"2020-01-18","i":0.0007,"c":0.0041,"p":0},{"s":18,"g":"a","d":"2020-01-25","i":0.0007,"c":0.004,"p":0},{"s":18,"g":"a","d":"2020-02-01","i":0.0006,"c":0.004,"p":0},{"s":18,"g":"a","d":"2020-02-08","i":0.0006,"c":0.004,"p":0},{"s":18,"g":"a","d":"2020-02-15","i":0.0006,"c":0.0039,"p":0},{"s":18,"g":"a","d":"2020-02-22","i":0.0006,"c":0.0039,"p":0},{"s":18,"g":"a","d":"2020-02-29","i":0.0006,"c":0.0038,"p":0},{"s":18,"g":"a","d":"2020-03-07","i":0.0007,"c":0.0037,"p":0},{"s":18,"g":"a","d":"2020-03-14","i":0.004,"c":0.0037,"p":0},{"s":18,"g":"a","d":"2020-03-21","i":0.012,"c":0.006,"p":0},{"s":18,"g":"a","d":"2020-03-28","i":0.018,"c":0.015,"p":0},{"s":18,"g":"a","d":"2020-04-04","i":0.016,"c":0.028,"p":0},{"s":18,"g":"a","d":"2020-04-11","i":0.014,"c":0.04,"p":0},{"s":18,"g":"a","d":"2020-04-18","i":0.012,"c":0.048,"p":0},{"s":18,"g":"a","d":"2020-04-25","i":0.01,"c":0.053,"p":0},{"s":18,"g":"a","d":"2020-05-02","i":0.008,"c":0.056,"p":1},{"s":18,"g":"a","d":"2020-05-09","i":0.007,"c":0.058,"p":1},{"s":18,"g":"a","d":"2020-05-16","i":0.0065,"c":0.05,"p":1},{"s":18,"g":"a","d":"2020-05-23","i":0.0055,"c":0.045,"p":1},
{"s":19,"g":"a","d":"2019-12-28","i":0.002,"c":0.01,"p":0},{"s":19,"g":"a","d":"2020-01-04","i":0.0022,"c":0.0102,"p":0},{"s":19,"g":"a","d":"2020-01-11","i":0.0017,"c":0.0105,"p":0},{"s":19,"g":"a","d":"2020-01-18","i":0.0014,"c":0.0102,"p":0},{"s":19,"g":"a","d":"2020-01-25","i":0.0013,"c":0.01,"p":0},{"s":19,"g":"a","d":"2020-02-01","i":0.0012,"c":0.01,"p":0},{"s":19,"g":"a","d":"2020-02-08","i":0.0012,"c":0.01,"p":0},{"s":19,"g":"a","d":"2020-02-15","i":0.0012,"c":0.0098,"p":0},{"s":19,"g":"a","d":"2020-02-22","i":0.0012,"c":0.0097,"p":0},{"s":19,"g":"a","d":"2020-02-29","i":0.0011,"c":0.0095,"p":0},{"s":19,"g":"a","d":"2020-03-07","i":0.0013,"c":0.0093,"p":0},{"s":19,"g":"a","d":"2020-03-14","i":0.02,"c":0.0093,"p":0},{"s":19,"g":"a","d":"2020-03-21","i":0.036,"c":0.02,"p":0},{"s":19,"g":"a","d":"2020-03-28","i":0.038,"c":0.048,"p":0},{"s":19,"g":"a","d":"2020-04-04","i":0.03,"c":0.08,"p":0},{"s":19,"g":"a","d":"2020-04-11","i":0.026,"c":0.1,"p":0},{"s":19,"g":"a","d":"2020-04-18","i":0.022,"c":0.112,"p":0},{"s":19,"g":"a","d":"2020-04-25","i":0.019,"c":0.118,"p":0},{"s":19,"g":"a","d":"2020-05-02","i":0.016,"c":0.121,"p":0},{"s":19,"g":"a","d":"2020-05-09","i":0.014,"c":0.122,"p":0},{"s":19,"g":"a","d":"2020-05-16","i":0.012,"c":0.118,"p":0},{"s":19,"g":"a","d":"2020-05-23","i":0.01,"c":0.115,"p":0},
{"s":20,"g":"b","d":"2019-12-28","i":0.0024,"c":0.02,"p":0},{"s":20,"g":"b","d":"2020-01-04","i":0.0025,"c":0.0204,"p":0},{"s":20,"g":"b","d":"2020-01-11","i":0.002,"c":0.021,"p":0},{"s":20,"g":"b","d":"2020-01-18","i":0.0017,"c":0.0204,"p":0},{"s":20,"g":"b","d":"2020-01-25","i":0.0015,"c":0.02,"p":0},{"s":20,"g":"b","d":"2020-02-01","i":0.0014,"c":0.02,"p":0},{"s":20,"g":"b","d":"2020-02-08","i":0.0014,"c":0.02,"p":0},{"s":20,"g":"b","d":"2020-02-15","i":0.0014,"c":0.0196,"p":0},{"s":20,"g":"b","d":"2020-02-22","i":0.0014,"c":0.0194,"p":0},{"s":20,"g":"b","d":"2020-02-29","i":0.0013,"c":0.019,"p":0},{"s":20,"g":"b","d":"2020-03-07","i":0.0015,"c":0.0186,"p":0},{"s":20,"g":"b","d":"2020-03-14","i":0.045,"c":0.0186,"p":0},{"s":20,"g":"b","d":"2020-03-21","i":0.05,"c":0.06,"p":0},{"s":20,"g":"b","d":"2020-03-28","i":0.044,"c":0.15,"p":0},{"s":20,"g":"b","d":"2020-04-04","i":0.032,"c":0.16,"p":0},{"s":20,"g":"b","d":"2020-04-11","i":0.026,"c":0.175,"p":0},{"s":20,"g":"b","d":"2020-04-18","i":0.02,"c":0.17,"p":0},{"s":20,"g":"b","d":"2020-04-25","i":0.016,"c":0.16,"p":0},{"s":20,"g":"b","d":"2020-05-02","i":0.013,"c":0.12,"p":1},{"s":20,"g":"b","d":"2020-05-09","i":0.011,"c":0.15,"p":1},{"s":20,"g":"b","d":"2020-05-16","i":0.0098,"c":0.11,"p":1},{"s":20,"g":"b","d":"2020-05-23","i":0.0085,"c":0.13,"p":1},
{"s":21,"g":"a","d":"2019-12-28","i":0.0014,"c":0.01,"p":0},{"s":21,"g":"a","d":"2020-01-04","i":0.0014,"c":0.0102,"p":0},{"s":21,"g":"a","d":"2020-01-11","i":0.0011,"c":0.0105,"p":0},{"s":21,"g":"a","d":"2020-01-18","i":0.001,"c":0.0102,"p":0},{"s":21,"g":"a","d":"2020-01-25","i":0.0009,"c":0.01,"p":0},{"s":21,"g":"a","d":"2020-02-01","i":0.0008,"c":0.01,"p":0},{"s":21,"g":"a","d":"2020-02-08","i":0.0008,"c":0.01,"p":0},{"s":21,"g":"a","d":"2020-02-15","i":0.0008,"c":0.0098,"p":0},{"s":21,"g":"a","d":"2020-02-22","i":0.0008,"c":0.0097,"p":0},{"s":21,"g":"a","d":"2020-02-29","i":0.0008,"c":0.0095,"p":0},{"s":21,"g":"a","d":"2020-03-07","i":0.0009,"c":0.0093,"p":0},{"s":21,"g":"a","d":"2020-03-14","i":0.012,"c":0.0093,"p":0},{"s":21,"g":"a","d":"2020-03-21","i":0.028,"c":0.018,"p":0},{"s":21,"g":"a","d":"2020-03-28","i":0.034,"c":0.04,"p":0},{"s":21,"g":"a","d":"2020-04-04","i":0.027,"c":0.068,"p":0},{"s":21,"g":"a","d":"2020-04-11","i":0.023,"c":0.088,"p":0},{"s":21,"g":"a","d":"2020-04-18","i":0.019,"c":0.1,"p":0},{"s":21,"g":"a","d":"2020-04-25","i":0.016,"c":0.106,"p":0},{"s":21,"g":"a","d":"2020-05-02","i":0.0125,"c":0.108,"p":1},{"s":21,"g":"a","d":"2020-05-09","i":0.011,"c":0.11,"p":1},{"s":21,"g":"a","d":"2020-05-16","i":0.0096,"c":0.104,"p":1},{"s":21,"g":"a","d":"2020-05-23","i":0.0082,"c":0.1,"p":1},
{"s":22,"g":"b","d":"2019-12-28","i":0.0017,"c":0.014,"p":0},{"s":22,"g":"b","d":"2020-01-04","i":0.0018,"c":0.0143,"p":0},{"s":22,"g":"b","d":"2020-01-11","i":0.0014,"c":0.0147,"p":0},{"s":22,"g":"b","d":"2020-01-18","i":0.0012,"c":0.0143,"p":0},{"s":22,"g":"b","d":"2020-01-25","i":0.0011,"c":0.014,"p":0},{"s":22,"g":"b","d":"2020-02-01","i":0.001,"c":0.014,"p":0},{"s":22,"g":"b","d":"2020-02-08","i":0.001,"c":0.014,"p":0},{"s":22,"g":"b","d":"2020-02-15","i":0.001,"c":0.0137,"p":0},{"s":22,"g":"b","d":"2020-02-22","i":0.001,"c":0.0136,"p":0},{"s":22,"g":"b","d":"2020-02-29","i":0.001,"c":0.0133,"p":0},{"s":22,"g":"b","d":"2020-03-07","i":0.0011,"c":0.013,"p":0},{"s":22,"g":"b","d":"2020-03-14","i":0.009,"c":0.013,"p":0},{"s":22,"g":"b","d":"2020-03-21","i":0.03,"c":0.024,"p":0},{"s":22,"g":"b","d":"2020-03-28","i":0.05,"c":0.05,"p":0},{"s":22,"g":"b","d":"2020-04-04","i":0.04,"c":0.034,"p":0},{"s":22,"g":"b","d":"2020-04-11","i":0.032,"c":0.018,"p":0},{"s":22,"g":"b","d":"2020-04-18","i":0.026,"c":0.045,"p":0},{"s":22,"g":"b","d":"2020-04-25","i":0.02,"c":0.06,"p":0},{"s":22,"g":"b","d":"2020-05-02","i":0.015,"c":0.062,"p":0},{"s":22,"g":"b","d":"2020-05-09","i":0.012,"c":0.066,"p":0},{"s":22,"g":"b","d":"2020-05-16","i":0.01,"c":0.064,"p":0},{"s":22,"g":"b","d":"2020-05-23","i":0.008,"c":0.062,"p":0},
{"s":23,"g":"a","d":"2019-12-28","i":0.0014,"c":0.012,"p":0},{"s":23,"g":"a","d":"2020-01-04","i":0.0014,"c":0.0122,"p":0},{"s":23,"g":"a","d":"2020-01-11","i":0.0011,"c":0.0126,"p":0},{"s":23,"g":"a","d":"2020-01-18","i":0.001,"c":0.0122,"p":0},{"s":23,"g":"a","d":"2020-01-25","i":0.0009,"c":0.012,"p":0},{"s":23,"g":"a","d":"2020-02-01","i":0.0008,"c":0.012,"p":0},{"s":23,"g":"a","d":"2020-02-08","i":0.0008,"c":0.012,"p":0},{"s":23,"g":"a","d":"2020-02-15","i":0.0008,"c":0.0118,"p":0},{"s":23,"g":"a","d":"2020-02-22","i":0.0008,"c":0.0116,"p":0},{"s":23,"g":"a","d":"2020-02-29","i":0.0008,"c":0.0114,"p":0},{"s":23,"g":"a","d":"2020-03-07","i":0.0009,"c":0.0112,"p":0},{"s":23,"g":"a","d":"2020-03-14","i":0.018,"c":0.0112,"p":0},{"s":23,"g":"a","d":"2020-03-21","i":0.04,"c":0.022,"p":0},{"s":23,"g":"a","d":"2020-03-28","i":0.035,"c":0.05,"p":0},{"s":23,"g":"a","d":"2020-04-04","i":0.026,"c":0.08,"p":0},{"s":23,"g":"a","d":"2020-04-11","i":0.021,"c":0.098,"p":0},{"s":23,"g":"a","d":"2020-04-18","i":0.017,"c":0.108,"p":0},{"s":23,"g":"a","d":"2020-04-25","i":0.014,"c":0.112,"p":1},{"s":23,"g":"a","d":"2020-05-02","i":0.011,"c":0.105,"p":1},{"s":23,"g":"a","d":"2020-05-09","i":0.0092,"c":0.1,"p":1},{"s":23,"g":"a","d":"2020-05-16","i":0.0082,"c":0.094,"p":1},{"s":23,"g":"a","d":"2020-05-23","i":0.007,"c":0.09,"p":1},
{"s":24,"g":"a","d":"2019-12-28","i":0.001,"c":0.006,"p":0},{"s":24,"g":"a","d":"2020-01-04","i":0.0011,"c":0.0061,"p":0},{"s":24,"g":"a","d":"2020-01-11","i":0.0008,"c":0.0063,"p":0},{"s":24,"g":"a","d":"2020-01-18","i":0.0007,"c":0.0061,"p":0},{"s":24,"g":"a","d":"2020-01-25","i":0.0007,"c":0.006,"p":0},{"s":24,"g":"a","d":"2020-02-01","i":0.0006,"c":0.006,"p":0},{"s":24,"g":"a","d":"2020-02-08","i":0.0006,"c":0.006,"p":0},{"s":24,"g":"a","d":"2020-02-15","i":0.0006,"c":0.0059,"p":0},{"s":24,"g":"a","d":"2020-02-22","i":0.0006,"c":0.0058,"p":0},{"s":24,"g":"a","d":"2020-02-29","i":0.0006,"c":0.0057,"p":0},{"s":24,"g":"a","d":"2020-03-07","i":0.0007,"c":0.0056,"p":0},{"s":24,"g":"a","d":"2020-03-14","i":0.007,"c":0.0056,"p":0},{"s":24,"g":"a","d":"2020-03-21","i":0.02,"c":0.012,"p":0},{"s":24,"g":"a","d":"2020-03-28","i":0.026,"c":0.028,"p":0},{"s":24,"g":"a","d":"2020-04-04","i":0.021,"c":0.045,"p":0},{"s":24,"g":"a","d":"2020-04-11","i":0.018,"c":0.058,"p":0},{"s":24,"g":"a","d":"2020-04-18","i":0.015,"c":0.066,"p":0},{"s":24,"g":"a","d":"2020-04-25","i":0.012,"c":0.07,"p":0},{"s":24,"g":"a","d":"2020-05-02","i":0.0095,"c":0.072,"p":0},{"s":24,"g":"a","d":"2020-05-09","i":0.0085,"c":0.074,"p":0},{"s":24,"g":"a","d":"2020-05-16","i":0.0076,"c":0.07,"p":1},{"s":24,"g":"a","d":"2020-05-23","i":0.0066,"c":0.066,"p":1},
{"s":25,"g":"a","d":"2019-12-28","i":0.002,"c":0.014,"p":0},{"s":25,"g":"a","d":"2020-01-04","i":0.0022,"c":0.0143,"p":0},{"s":25,"g":"a","d":"2020-01-11","i":0.0017,"c":0.0147,"p":0},{"s":25,"g":"a","d":"2020-01-18","i":0.0014,"c":0.0143,"p":0},{"s":25,"g":"a","d":"2020-01-25","i":0.0013,"c":0.014,"p":0},{"s":25,"g":"a","d":"2020-02-01","i":0.0012,"c":0.014,"p":0},{"s":25,"g":"a","d":"2020-02-08","i":0.0012,"c":0.014,"p":0},{"s":25,"g":"a","d":"2020-02-15","i":0.0012,"c":0.0137,"p":0},{"s":25,"g":"a","d":"2020-02-22","i":0.0012,"c":0.0136,"p":0},{"s":25,"g":"a","d":"2020-02-29","i":0.0011,"c":0.0133,"p":0},{"s":25,"g":"a","d":"2020-03-07","i":0.0013,"c":0.013,"p":0},{"s":25,"g":"a","d":"2020-03-14","i":0.022,"c":0.013,"p":0},{"s":25,"g":"a","d":"2020-03-21","i":0.036,"c":0.026,"p":0},{"s":25,"g":"a","d":"2020-03-28","i":0.041,"c":0.058,"p":0},{"s":25,"g":"a","d":"2020-04-04","i":0.032,"c":0.092,"p":0},{"s":25,"g":"a","d":"2020-04-11","i":0.027,"c":0.115,"p":0},{"s":25,"g":"a","d":"2020-04-18","i":0.021,"c":0.128,"p":0},{"s":25,"g":"a","d":"2020-04-25","i":0.016,"c":0.134,"p":0},{"s":25,"g":"a","d":"2020-05-02","i":0.012,"c":0.137,"p":0},{"s":25,"g":"a","d":"2020-05-09","i":0.0098,"c":0.138,"p":0},{"s":25,"g":"a","d":"2020-05-16","i":0.0088,"c":0.132,"p":0},{"s":25,"g":"a","d":"2020-05-23","i":0.0074,"c":0.127,"p":0},
{"s":26,"g":"a","d":"2019-12-28","i":0.0014,"c":0.008,"p":0},{"s":26,"g":"a","d":"2020-01-04","i":0.0014,"c":0.0082,"p":0},{"s":26,"g":"a","d":"2020-01-11","i":0.0011,"c":0.0084,"p":0},{"s":26,"g":"a","d":"2020-01-18","i":0.001,"c":0.0082,"p":0},{"s":26,"g":"a","d":"2020-01-25","i":0.0009,"c":0.008,"p":0},{"s":26,"g":"a","d":"2020-02-01","i":0.0008,"c":0.008,"p":0},{"s":26,"g":"a","d":"2020-02-08","i":0.0008,"c":0.008,"p":0},{"s":26,"g":"a","d":"2020-02-15","i":0.0008,"c":0.0078,"p":0},{"s":26,"g":"a","d":"2020-02-22","i":0.0008,"c":0.0078,"p":0},{"s":26,"g":"a","d":"2020-02-29","i":0.0008,"c":0.0076,"p":0},{"s":26,"g":"a","d":"2020-03-07","i":0.0009,"c":0.0074,"p":0},{"s":26,"g":"a","d":"2020-03-14","i":0.011,"c":0.0074,"p":0},{"s":26,"g":"a","d":"2020-03-21","i":0.026,"c":0.016,"p":0},{"s":26,"g":"a","d":"2020-03-28","i":0.031,"c":0.04,"p":0},{"s":26,"g":"a","d":"2020-04-04","i":0.025,"c":0.066,"p":0},{"s":26,"g":"a","d":"2020-04-11","i":0.021,"c":0.085,"p":0},{"s":26,"g":"a","d":"2020-04-18","i":0.017,"c":0.096,"p":0},{"s":26,"g":"a","d":"2020-04-25","i":0.0135,"c":0.102,"p":0},{"s":26,"g":"a","d":"2020-05-02","i":0.0108,"c":0.1,"p":1},{"s":26,"g":"a","d":"2020-05-09","i":0.0093,"c":0.098,"p":1},{"s":26,"g":"a","d":"2020-05-16","i":0.0084,"c":0.093,"p":1},{"s":26,"g":"a","d":"2020-05-23","i":0.0072,"c":0.088,"p":1},
{"s":27,"g":"b","d":"2019-12-28","i":0.002,"c":0.018,"p":0},{"s":27,"g":"b","d":"2020-01-04","i":0.0022,"c":0.0184,"p":0},{"s":27,"g":"b","d":"2020-01-11","i":0.0017,"c":0.0189,"p":0},{"s":27,"g":"b","d":"2020-01-18","i":0.0014,"c":0.0184,"p":0},{"s":27,"g":"b","d":"2020-01-25","i":0.0013,"c":0.018,"p":0},{"s":27,"g":"b","d":"2020-02-01","i":0.0012,"c":0.018,"p":0},{"s":27,"g":"b","d":"2020-02-08","i":0.0012,"c":0.018,"p":0},{"s":27,"g":"b","d":"2020-02-15","i":0.0012,"c":0.0176,"p":0},{"s":27,"g":"b","d":"2020-02-22","i":0.0033,"c":0.0175,"p":0},{"s":27,"g":"b","d":"2020-02-29","i":0.0011,"c":0.0171,"p":0},{"s":27,"g":"b","d":"2020-03-07","i":0.0013,"c":0.0167,"p":0},{"s":27,"g":"b","d":"2020-03-14","i":0.028,"c":0.0167,"p":0},{"s":27,"g":"b","d":"2020-03-21","i":0.025,"c":0.04,"p":0},{"s":27,"g":"b","d":"2020-03-28","i":0.036,"c":0.1,"p":0},{"s":27,"g":"b","d":"2020-04-04","i":0.03,"c":0.14,"p":0},{"s":27,"g":"b","d":"2020-04-11","i":0.036,"c":0.12,"p":0},{"s":27,"g":"b","d":"2020-04-18","i":0.026,"c":0.14,"p":0},{"s":27,"g":"b","d":"2020-04-25","i":0.018,"c":0.248,"p":0},{"s":27,"g":"b","d":"2020-05-02","i":0.013,"c":0.13,"p":0},{"s":27,"g":"b","d":"2020-05-09","i":0.011,"c":0.125,"p":0},{"s":27,"g":"b","d":"2020-05-16","i":0.0098,"c":0.12,"p":0},{"s":27,"g":"b","d":"2020-05-23","i":0.0082,"c":0.115,"p":0},
{"s":28,"g":"a","d":"2019-12-28","i":0.0017,"c":0.01,"p":0},{"s":28,"g":"a","d":"2020-01-04","i":0.0018,"c":0.0102,"p":0},{"s":28,"g":"a","d":"2020-01-11","i":0.0014,"c":0.0105,"p":0},{"s":28,"g":"a","d":"2020-01-18","i":0.0012,"c":0.0102,"p":0},{"s":28,"g":"a","d":"2020-01-25","i":0.0011,"c":0.01,"p":0},{"s":28,"g":"a","d":"2020-02-01","i":0.001,"c":0.01,"p":0},{"s":28,"g":"a","d":"2020-02-08","i":0.001,"c":0.01,"p":0},{"s":28,"g":"a","d":"2020-02-15","i":0.001,"c":0.0098,"p":0},{"s":28,"g":"a","d":"2020-02-22","i":0.001,"c":0.0097,"p":0},{"s":28,"g":"a","d":"2020-02-29","i":0.001,"c":0.0095,"p":0},{"s":28,"g":"a","d":"2020-03-07","i":0.0011,"c":0.0093,"p":0},{"s":28,"g":"a","d":"2020-03-14","i":0.013,"c":0.0093,"p":0},{"s":28,"g":"a","d":"2020-03-21","i":0.03,"c":0.018,"p":0},{"s":28,"g":"a","d":"2020-03-28","i":0.036,"c":0.044,"p":0},{"s":28,"g":"a","d":"2020-04-04","i":0.029,"c":0.074,"p":0},{"s":28,"g":"a","d":"2020-04-11","i":0.025,"c":0.094,"p":0},{"s":28,"g":"a","d":"2020-04-18","i":0.021,"c":0.106,"p":0},{"s":28,"g":"a","d":"2020-04-25","i":0.017,"c":0.112,"p":0},{"s":28,"g":"a","d":"2020-05-02","i":0.013,"c":0.115,"p":1},{"s":28,"g":"a","d":"2020-05-09","i":0.01,"c":0.098,"p":1},{"s":28,"g":"a","d":"2020-05-16","i":0.011,"c":0.092,"p":1},{"s":28,"g":"a","d":"2020-05-23","i":0.0045,"c":0.088,"p":1},
{"s":29,"g":"a","d":"2019-12-28","i":0.0017,"c":0.02,"p":0},{"s":29,"g":"a","d":"2020-01-04","i":0.0018,"c":0.0204,"p":0},{"s":29,"g":"a","d":"2020-01-11","i":0.0014,"c":0.021,"p":0},{"s":29,"g":"a","d":"2020-01-18","i":0.0012,"c":0.0204,"p":0},{"s":29,"g":"a","d":"2020-01-25","i":0.0011,"c":0.02,"p":0},{"s":29,"g":"a","d":"2020-02-01","i":0.001,"c":0.02,"p":0},{"s":29,"g":"a","d":"2020-02-08","i":0.001,"c":0.02,"p":0},{"s":29,"g":"a","d":"2020-02-15","i":0.001,"c":0.0196,"p":0},{"s":29,"g":"a","d":"2020-02-22","i":0.001,"c":0.0194,"p":0},{"s":29,"g":"a","d":"2020-02-29","i":0.001,"c":0.019,"p":0},{"s":29,"g":"a","d":"2020-03-07","i":0.0011,"c":0.0186,"p":0},{"s":29,"g":"a","d":"2020-03-14","i":0.017,"c":0.0186,"p":0},{"s":29,"g":"a","d":"2020-03-21","i":0.038,"c":0.04,"p":0},{"s":29,"g":"a","d":"2020-03-28","i":0.044,"c":0.085,"p":0},{"s":29,"g":"a","d":"2020-04-04","i":0.033,"c":0.13,"p":0},{"s":29,"g":"a","d":"2020-04-11","i":0.027,"c":0.16,"p":0},{"s":29,"g":"a","d":"2020-04-18","i":0.021,"c":0.185,"p":0},{"s":29,"g":"a","d":"2020-04-25","i":0.017,"c":0.201,"p":0},{"s":29,"g":"a","d":"2020-05-02","i":0.013,"c":0.212,"p":0},{"s":29,"g":"a","d":"2020-05-09","i":0.0105,"c":0.24,"p":1},{"s":29,"g":"a","d":"2020-05-16","i":0.0092,"c":0.222,"p":1},{"s":29,"g":"a","d":"2020-05-23","i":0.008,"c":0.219,"p":1},
{"s":30,"g":"a","d":"2019-12-28","i":0.001,"c":0.004,"p":0},{"s":30,"g":"a","d":"2020-01-04","i":0.0011,"c":0.0041,"p":0},{"s":30,"g":"a","d":"2020-01-11","i":0.0008,"c":0.0042,"p":0},{"s":30,"g":"a","d":"2020-01-18","i":0.0007,"c":0.0041,"p":0},{"s":30,"g":"a","d":"2020-01-25","i":0.0007,"c":0.004,"p":0},{"s":30,"g":"a","d":"2020-02-01","i":0.0006,"c":0.004,"p":0},{"s":30,"g":"a","d":"2020-02-08","i":0.0006,"c":0.004,"p":0},{"s":30,"g":"a","d":"2020-02-15","i":0.0006,"c":0.0039,"p":0},{"s":30,"g":"a","d":"2020-02-22","i":0.0006,"c":0.0039,"p":0},{"s":30,"g":"a","d":"2020-02-29","i":0.0006,"c":0.0038,"p":0},{"s":30,"g":"a","d":"2020-03-07","i":0.0007,"c":0.0037,"p":0},{"s":30,"g":"a","d":"2020-03-14","i":0.008,"c":0.0037,"p":0},{"s":30,"g":"a","d":"2020-03-21","i":0.016,"c":0.008,"p":0},{"s":30,"g":"a","d":"2020-03-28","i":0.02,"c":0.02,"p":0},{"s":30,"g":"a","d":"2020-04-04","i":0.018,"c":0.034,"p":0},{"s":30,"g":"a","d":"2020-04-11","i":0.016,"c":0.045,"p":0},{"s":30,"g":"a","d":"2020-04-18","i":0.014,"c":0.052,"p":0},{"s":30,"g":"a","d":"2020-04-25","i":0.012,"c":0.056,"p":0},{"s":30,"g":"a","d":"2020-05-02","i":0.01,"c":0.06,"p":1},{"s":30,"g":"a","d":"2020-05-09","i":0.009,"c":0.055,"p":1},{"s":30,"g":"a","d":"2020-05-16","i":0.008,"c":0.05,"p":1},{"s":30,"g":"a","d":"2020-05-23","i":0.0035,"c":0.042,"p":1},
{"s":31,"g":"a","d":"2019-12-28","i":0.0027,"c":0.0297,"p":0},{"s":31,"g":"a","d":"2020-01-04","i":0.0029,"c":0.029,"p":0},{"s":31,"g":"a","d":"2020-01-11","i":0.0022,"c":0.0294,"p":0},{"s":31,"g":"a","d":"2020-01-18","i":0.0019,"c":0.0286,"p":0},{"s":31,"g":"a","d":"2020-01-25","i":0.0018,"c":0.028,"p":0},{"s":31,"g":"a","d":"2020-02-01","i":0.0016,"c":0.028,"p":0},{"s":31,"g":"a","d":"2020-02-08","i":0.0016,"c":0.028,"p":0},{"s":31,"g":"a","d":"2020-02-15","i":0.0016,"c":0.0274,"p":0},{"s":31,"g":"a","d":"2020-02-22","i":0.0016,"c":0.0272,"p":0},{"s":31,"g":"a","d":"2020-02-29","i":0.0015,"c":0.0266,"p":0},{"s":31,"g":"a","d":"2020-03-07","i":0.0018,"c":0.026,"p":0},{"s":31,"g":"a","d":"2020-03-14","i":0.035,"c":0.026,"p":0},{"s":31,"g":"a","d":"2020-03-21","i":0.058,"c":0.06,"p":0},{"s":31,"g":"a","d":"2020-03-28","i":0.05,"c":0.13,"p":0},{"s":31,"g":"a","d":"2020-04-04","i":0.036,"c":0.17,"p":0},{"s":31,"g":"a","d":"2020-04-11","i":0.03,"c":0.185,"p":0},{"s":31,"g":"a","d":"2020-04-18","i":0.024,"c":0.19,"p":0},{"s":31,"g":"a","d":"2020-04-25","i":0.019,"c":0.188,"p":0},{"s":31,"g":"a","d":"2020-05-02","i":0.015,"c":0.18,"p":0},{"s":31,"g":"a","d":"2020-05-09","i":0.012,"c":0.175,"p":0},{"s":31,"g":"a","d":"2020-05-16","i":0.0105,"c":0.168,"p":0},{"s":31,"g":"a","d":"2020-05-23","i":0.009,"c":0.162,"p":0},
{"s":32,"g":"b","d":"2019-12-28","i":0.0024,"c":0.016,"p":0},{"s":32,"g":"b","d":"2020-01-04","i":0.0025,"c":0.0163,"p":0},{"s":32,"g":"b","d":"2020-01-11","i":0.002,"c":0.0168,"p":0},{"s":32,"g":"b","d":"2020-01-18","i":0.0017,"c":0.0163,"p":0},{"s":32,"g":"b","d":"2020-01-25","i":0.0015,"c":0.016,"p":0},{"s":32,"g":"b","d":"2020-02-01","i":0.0014,"c":0.016,"p":0},{"s":32,"g":"b","d":"2020-02-08","i":0.0014,"c":0.016,"p":0},{"s":32,"g":"b","d":"2020-02-15","i":0.0014,"c":0.0157,"p":0},{"s":32,"g":"b","d":"2020-02-22","i":0.0014,"c":0.0155,"p":0},{"s":32,"g":"b","d":"2020-02-29","i":0.0013,"c":0.0152,"p":0},{"s":32,"g":"b","d":"2020-03-07","i":0.0015,"c":0.0149,"p":0},{"s":32,"g":"b","d":"2020-03-14","i":0.024,"c":0.0149,"p":0},{"s":32,"g":"b","d":"2020-03-21","i":0.044,"c":0.032,"p":0},{"s":32,"g":"b","d":"2020-03-28","i":0.048,"c":0.075,"p":0},{"s":32,"g":"b","d":"2020-04-04","i":0.036,"c":0.118,"p":0},{"s":32,"g":"b","d":"2020-04-11","i":0.029,"c":0.14,"p":0},{"s":32,"g":"b","d":"2020-04-18","i":0.023,"c":0.15,"p":0},{"s":32,"g":"b","d":"2020-04-25","i":0.018,"c":0.154,"p":0},{"s":32,"g":"b","d":"2020-05-02","i":0.014,"c":0.17,"p":1},{"s":32,"g":"b","d":"2020-05-09","i":0.0115,"c":0.16,"p":1},{"s":32,"g":"b","d":"2020-05-16","i":0.01,"c":0.175,"p":1},{"s":32,"g":"b","d":"2020-05-23","i":0.0087,"c":0.15,"p":1}
]},
"hconcat":[
{"width":555,"height":515,"title":{"text":["Reopening Policy:","Weekly Unemployment Insurance Initial Claims"]},
"layer":[
{"data":{"name":"st"},"mark":{"type":"line","color":"#c3c3c3","strokeWidth":1},"encoding":{"x":{"field":"d","type":"temporal","scale":{"type":"utc","domain":[1577278656000,1590364800000]},"axis":{"values":[1577491200000,1579219200000,1580947200000,1582675200000,1584403200000,1586131200000,1587859200000,1589587200000],"labelExpr":"lower(utcFormat(datum.value,'%d%b%Y'))","tickSize":7,"labelPadding":3,"labelFontSize":13,"labelFlush":false,"labelOverlap":false}},"y":{"field":"i","type":"quantitative","scale":{"domain":[-0.0013,0.0818],"nice":false,"zero":false},"axis":{"values":[0,0.02,0.04,0.06,0.08],"labelExpr":"replace(format(datum.value,'~g'),'0.','.')","labelAngle":-90,"labelAlign":"center","labelBaseline":"bottom","tickSize":5,"labelPadding":9,"labelFontSize":12.5}},"detail":{"field":"s","type":"nominal"},"strokeDash":{"field":"g","type":"nominal","scale":{"domain":["a","b"],"range":[[1,0],[7,4]]},"legend":null}}},
{"data":{"name":"st"},"transform":[{"filter":"datum.p==1"}],"mark":{"type":"line","color":"#ff7b7b","strokeWidth":1},"encoding":{"x":{"field":"d","type":"temporal"},"y":{"field":"i","type":"quantitative"},"detail":{"field":"s","type":"nominal"},"strokeDash":{"field":"g","type":"nominal","scale":{"domain":["a","b"],"range":[[1,0],[7,4]]},"legend":null}}},
{"data":{"name":"avg"},"mark":{"type":"line","color":"#000","strokeWidth":1.6},"encoding":{"x":{"field":"d","type":"temporal"},"y":{"field":"i","type":"quantitative"}}}
]},
{"width":555,"height":515,"title":{"text":["Reopening Policy:","Weekly Unemployment Insurance Continuing Claims"]},
"layer":[
{"data":{"name":"st"},"mark":{"type":"line","color":"#c3c3c3","strokeWidth":1},"encoding":{"x":{"field":"d","type":"temporal","scale":{"type":"utc","domain":[1577278656000,1590364800000]},"axis":{"values":[1577491200000,1579219200000,1580947200000,1582675200000,1584403200000,1586131200000,1587859200000,1589587200000],"labelExpr":"lower(utcFormat(datum.value,'%d%b%Y'))","tickSize":7,"labelPadding":3,"labelFontSize":13,"labelFlush":false,"labelOverlap":false}},"y":{"field":"c","type":"quantitative","scale":{"domain":[-0.0042,0.2691],"nice":false,"zero":false},"axis":{"values":[0,0.05,0.1,0.15,0.2,0.25],"labelExpr":"replace(format(datum.value,'~g'),'0.','.')","labelAngle":-90,"labelAlign":"center","labelBaseline":"bottom","tickSize":5,"labelPadding":9,"labelFontSize":12.5}},"detail":{"field":"s","type":"nominal"},"strokeDash":{"field":"g","type":"nominal","scale":{"domain":["a","b"],"range":[[1,0],[7,4]]},"legend":null}}},
{"data":{"name":"st"},"transform":[{"filter":"datum.p==1"}],"mark":{"type":"line","color":"#ff7b7b","strokeWidth":1},"encoding":{"x":{"field":"d","type":"temporal"},"y":{"field":"c","type":"quantitative"},"detail":{"field":"s","type":"nominal"},"strokeDash":{"field":"g","type":"nominal","scale":{"domain":["a","b"],"range":[[1,0],[7,4]]},"legend":null}}},
{"data":{"name":"avg"},"mark":{"type":"line","color":"#000","strokeWidth":1.6},"encoding":{"x":{"field":"d","type":"temporal"},"y":{"field":"c","type":"quantitative"}}}
]}
]}
